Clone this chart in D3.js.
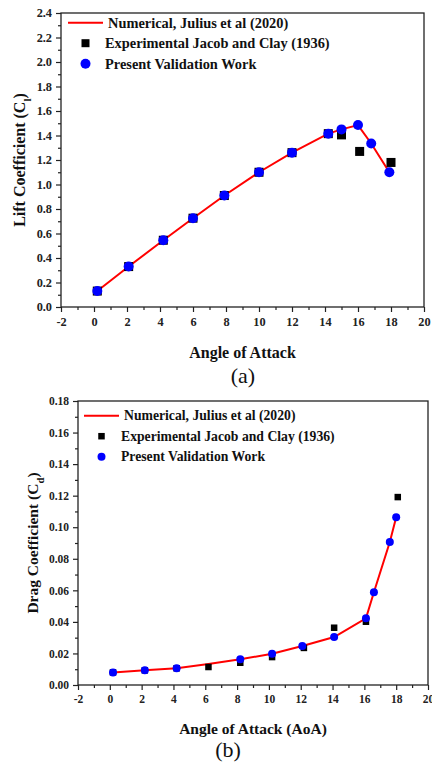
<!DOCTYPE html>
<html>
<head>
<meta charset="utf-8">
<script src="https://cdn.jsdelivr.net/npm/d3@7/dist/d3.min.js"></script>
<style>
  body { margin: 0; background: #fff; }
  svg text { font-family: "Liberation Serif", "Times New Roman", serif; }
</style>
</head>
<body>
<div id="chart"></div>
<script>
// (a) lift coefficient
var aoaLiftNum = [0.2, 2.1, 4.2, 6.0, 7.9, 10.0, 12.0, 14.2, 15.0, 16.0, 16.8, 17.9]
var clNumerical = [0.13, 0.33, 0.545, 0.725, 0.91, 1.10, 1.26, 1.415, 1.45, 1.485, 1.335, 1.10]
var aoaLiftExp = [0.2, 2.1, 4.2, 6.0, 7.9, 10.0, 12.0, 14.2, 15.0, 16.1, 18.0]
var clExperimental = [0.13, 0.33, 0.545, 0.725, 0.91, 1.10, 1.26, 1.415, 1.405, 1.27, 1.18]
var aoaLiftPresent = [0.2, 2.1, 4.2, 6.0, 7.9, 10.0, 12.0, 14.2, 15.0, 16.0, 16.8, 17.9]
var clPresent = [0.13, 0.33, 0.545, 0.725, 0.91, 1.10, 1.26, 1.415, 1.45, 1.485, 1.335, 1.10]

// (b) drag coefficient
var aoaDragNum = [0.2, 2.2, 4.2, 6.2, 8.2, 10.2, 12.1, 14.1, 16.1, 16.6, 17.6, 18.0]
var cdNumerical = [0.008, 0.0093, 0.0106, 0.0133, 0.0163, 0.0198, 0.0247, 0.0304, 0.0423, 0.0588, 0.0906, 0.1063]
var aoaDragExp = [0.2, 2.2, 4.2, 6.2, 8.2, 10.2, 12.2, 14.1, 16.1, 18.1]
var cdExperimental = [0.008, 0.0093, 0.0106, 0.0114, 0.0141, 0.0177, 0.0235, 0.0363, 0.0401, 0.1191]
var aoaDragPresent = [0.2, 2.2, 4.2, 8.2, 10.2, 12.1, 14.1, 16.1, 16.6, 17.6, 18.0]
var cdPresent = [0.008, 0.0093, 0.0106, 0.0163, 0.0198, 0.0247, 0.0304, 0.0423, 0.0588, 0.0906, 0.1063]

var legendLabels = ["Numerical, Julius et al (2020)", "Experimental Jacob and Clay (1936)", "Present Validation Work"]
var xTicks = [-2, 0, 2, 4, 6, 8, 10, 12, 14, 16, 18, 20]

var svg = d3.select("#chart").append("svg")
    .attr("width", 432)
    .attr("height", 765)
    .style("background", "#fff")
    .style("font-family", "Liberation Serif")

function zip(xs, ys){
    return xs.map(function(x, i){ return [x, ys[i]] })
}

function addPanel(o){
    var x = d3.scaleLinear().domain([-2, 20]).range([o.left, o.right])
    var y = d3.scaleLinear().domain(o.yDomain).range([o.bottom, o.top])
    var g = svg.append("g")

    // minor ticks
    g.append("g").attr("transform", "translate(0," + o.bottom + ")")
        .call(d3.axisBottom(x).tickValues(d3.range(-1, 20, 2)).tickSize(3).tickFormat(""))
    g.append("g").attr("transform", "translate(" + o.left + ",0)")
        .call(d3.axisLeft(y).tickValues(o.yMinor).tickSize(3).tickFormat(""))

    g.append("g").attr("transform", "translate(0," + o.bottom + ")")
        .call(d3.axisBottom(x).tickValues(xTicks).tickSize(5).tickPadding(5)
            .tickFormat(function(d){ return String(d) }))
    g.append("g").attr("transform", "translate(" + o.left + ",0)")
        .call(d3.axisLeft(y).tickValues(o.yTicks).tickSize(5).tickPadding(4).tickFormat(d3.format(o.yFormat)))

    g.selectAll(".domain").remove()
    g.selectAll(".tick line").attr("stroke", "#222").attr("stroke-width", 1.2)
    g.selectAll(".tick text")
        .attr("font-family", "Liberation Serif")
        .style("font-weight", "bold")
        .style("font-size", o.tickSize + "px")
        .attr("fill", "#222")

    g.append("rect")
        .attr("x", o.left).attr("y", o.top)
        .attr("width", o.right - o.left).attr("height", o.bottom - o.top)
        .attr("fill", "none").attr("stroke", "#222").attr("stroke-width", 1.3)

    var line = d3.line()
        .x(function(d){ return x(d[0]) })
        .y(function(d){ return y(d[1]) })
    g.append("path").datum(o.num)
        .attr("d", line)
        .attr("fill", "none").attr("stroke", "#ff0000").attr("stroke-width", 2)

    g.selectAll(".sq").data(o.exp).enter().append("rect")
        .attr("x", function(d){ return x(d[0]) - o.sq / 2 })
        .attr("y", function(d){ return y(d[1]) - o.sq / 2 })
        .attr("width", o.sq).attr("height", o.sq)
        .attr("fill", "#000")

    g.selectAll(".dot").data(o.present).enter().append("circle")
        .attr("cx", function(d){ return x(d[0]) })
        .attr("cy", function(d){ return y(d[1]) })
        .attr("r", o.r)
        .attr("fill", "#0000ff")

    // legend
    var lg = g.append("g").attr("transform", "translate(" + o.legX + "," + o.legY + ")")
    lg.append("line").attr("x1", 0).attr("x2", 35).attr("y1", 0).attr("y2", 0)
        .attr("stroke", "#ff0000").attr("stroke-width", 2)
    lg.append("rect").attr("x", 17.5 - o.legSq / 2).attr("y", o.legGap - o.legSq / 2)
        .attr("width", o.legSq).attr("height", o.legSq).attr("fill", "#000")
    lg.append("circle").attr("cx", 17.5).attr("cy", 2 * o.legGap).attr("r", o.legR).attr("fill", "#0000ff")
    lg.selectAll("text").data(legendLabels).enter().append("text")
        .attr("x", function(d, i){ return i == 0 ? 40 : 37 })
        .attr("y", function(d, i){ return i * o.legGap })
        .attr("dy", "0.35em")
        .style("font-weight", "bold")
        .style("font-size", o.legSize + "px")
        .attr("fill", "#111")
        .text(function(d){ return d })

    // axis titles
    var cx = (o.left + o.right) / 2
    svg.append("text")
        .attr("x", cx).attr("y", o.xTitleY)
        .attr("text-anchor", "middle")
        .style("font-weight", "bold").style("font-size", o.titleSize + "px")
        .attr("fill", "#111")
        .text(o.xTitle)
    var yt = svg.append("text")
        .attr("transform", "translate(" + o.yTitleX + "," + ((o.top + o.bottom) / 2) + ") rotate(-90)")
        .attr("text-anchor", "middle")
        .style("font-weight", "bold").style("font-size", o.titleSize + "px")
        .attr("fill", "#111")
    yt.append("tspan").text(o.yTitle + " (C")
    yt.append("tspan").attr("baseline-shift", "sub").style("font-size", (o.titleSize * 0.7) + "px").text(o.sub)
    yt.append("tspan").text(")")

    svg.append("text")
        .attr("x", o.capX).attr("y", o.capY)
        .attr("text-anchor", "middle")
        .style("font-size", "22px")
        .attr("fill", "#111")
        .text(o.caption)
}

addPanel({
    left: 61, right: 424, top: 13, bottom: 307,
    yDomain: [0, 2.4], yTicks: d3.range(0, 2.41, 0.2), yMinor: d3.range(0.1, 2.4, 0.2), yFormat: ".1f",
    tickSize: 12.3,
    num: zip(aoaLiftNum, clNumerical), exp: zip(aoaLiftExp, clExperimental), present: zip(aoaLiftPresent, clPresent),
    sq: 9, r: 5,
    legX: 68, legY: 22.7, legGap: 20.5, legSq: 8, legR: 5, legSize: 14.4,
    xTitle: "Angle of Attack", xTitleY: 358, yTitle: "Lift Coefficient", sub: "l", yTitleX: 25, titleSize: 16,
    caption: "(a)", capX: 243, capY: 383
})

addPanel({
    left: 78, right: 428, top: 401, bottom: 685,
    yDomain: [0, 0.18], yTicks: d3.range(0, 0.181, 0.02), yMinor: d3.range(0.01, 0.18, 0.02), yFormat: ".2f",
    tickSize: 11.5,
    num: zip(aoaDragNum, cdNumerical), exp: zip(aoaDragExp, cdExperimental), present: zip(aoaDragPresent, cdPresent),
    sq: 6.5, r: 4,
    legX: 84, legY: 415.7, legGap: 20.5, legSq: 6.5, legR: 4, legSize: 13.7,
    xTitle: "Angle of Attack (AoA)", xTitleY: 734, yTitle: "Drag Coefficient", sub: "d", yTitleX: 38, titleSize: 15.5,
    caption: "(b)", capX: 228, capY: 757
})
</script>
</body>
</html>
